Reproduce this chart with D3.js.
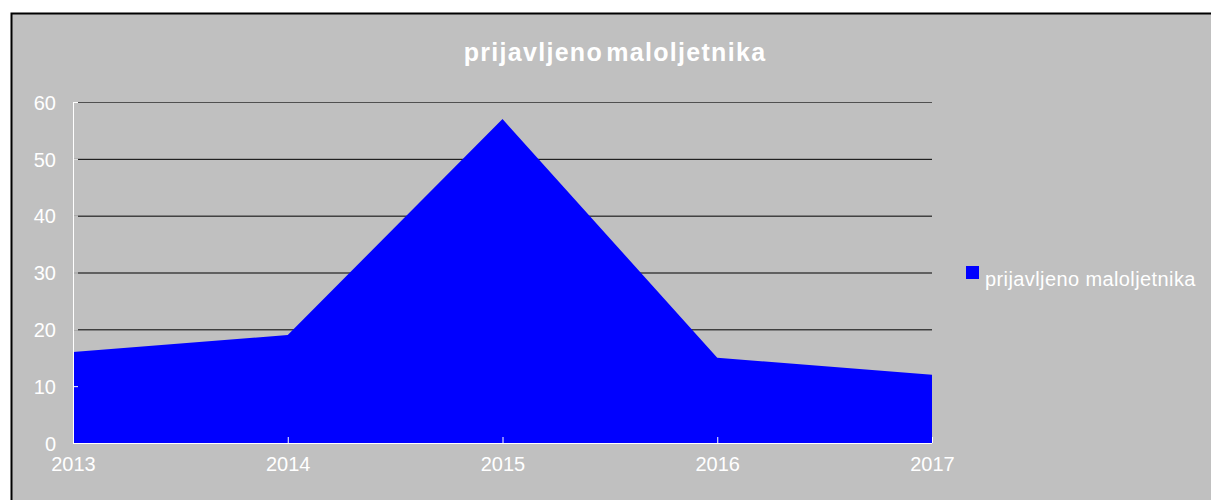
<!DOCTYPE html>
<html>
<head>
<meta charset="utf-8">
<script src="https://cdn.jsdelivr.net/npm/d3@7"></script>
<style>
  body { margin: 0; background: #fff; }
  svg text { font-family: "Liberation Sans", Arial, sans-serif; fill: #fff; }
</style>
</head>
<body>
<div id="chart"></div>
<script>
// chart data
var years = ["2013", "2014", "2015", "2016", "2017"];
var values = [16, 19, 57, 15, 12];
var yTicks = [0, 10, 20, 30, 40, 50, 60];
var seriesName = "prijavljeno maloljetnika";
var title = "prijavljeno maloljetnika";

var W = 1211, H = 500;
var margin = {top: 102, left: 73},
    width = 932 - 73,
    height = 443 - 102;

var svg = d3.select("#chart").append("svg")
    .attr("width", W)
    .attr("height", H);

// frame
svg.append("rect")
   .attr("x", 11.5).attr("y", 13.5)
   .attr("width", W + 10).attr("height", H + 10)
   .attr("fill", "#c0c0c0")
   .attr("stroke", "#000")
   .attr("stroke-width", 2);

var x = d3.scalePoint().domain(years).range([0, width]);
var y = d3.scaleLinear().domain([0, 60]).range([height, 0]);

var g = svg.append("g")
    .attr("transform", "translate(" + margin.left + "," + margin.top + ")");

// gridlines
g.selectAll(".grid")
  .data(yTicks.filter(function(d) { return d > 0; }))
  .enter().append("line")
    .attr("x1", 0).attr("x2", width)
    .attr("y1", function(d) { return y(d) + 0.5; })
    .attr("y2", function(d) { return y(d) + 0.5; })
    .attr("stroke", function(d) { return d == 60 ? "#505050" : "#000"; })
    .attr("stroke-width", 1);

// area
var area = d3.area()
    .x(function(d, i) { return x(years[i]); })
    .y0(y(0))
    .y1(function(d) { return y(d); });

g.append("path")
  .attr("d", area(values))
  .attr("fill", "#0000ff");

// y axis
var yAxis = g.append("g")
  .attr("font-size", 20)
  .call(d3.axisLeft(y).tickValues(yTicks).tickSize(5).tickPadding(12));
yAxis.select(".domain").attr("stroke", "#fff").attr("d", "M0.5,0V" + (height + 0.5));
yAxis.selectAll(".tick line").attr("stroke", "#fff").attr("x2", 5);
yAxis.selectAll("text").style("font-size", "20px").attr("fill", "#fff").attr("dy", "0.36em");

// x axis
var xAxis = g.append("g")
  .attr("font-size", 20)
  .attr("transform", "translate(0," + height + ")")
  .call(d3.axisBottom(x).tickSize(-6).tickPadding(14));
xAxis.select(".domain").attr("stroke", "#fff").attr("d", "M0," + 0.5 + "H" + width);
xAxis.selectAll(".tick line").attr("stroke", "#fff");
xAxis.selectAll("text").style("font-size", "20px").attr("fill", "#fff");

// title
svg.append("text")
  .attr("x", 615).attr("y", 61)
  .attr("text-anchor", "middle")
  .style("font-size", "25px")
  .style("font-weight", "bold")
  .style("letter-spacing", "1.3px")
  .style("word-spacing", "-5px")
  .text(title);

// legend
var legend = svg.append("g").attr("transform", "translate(966,266)");
legend.append("rect")
  .attr("width", 13).attr("height", 13)
  .attr("fill", "#0000ff");
legend.append("text")
  .attr("x", 19).attr("y", 20)
  .style("font-size", "20px")
  .style("letter-spacing", "0.4px")
  .text(seriesName);
</script>
</body>
</html>
